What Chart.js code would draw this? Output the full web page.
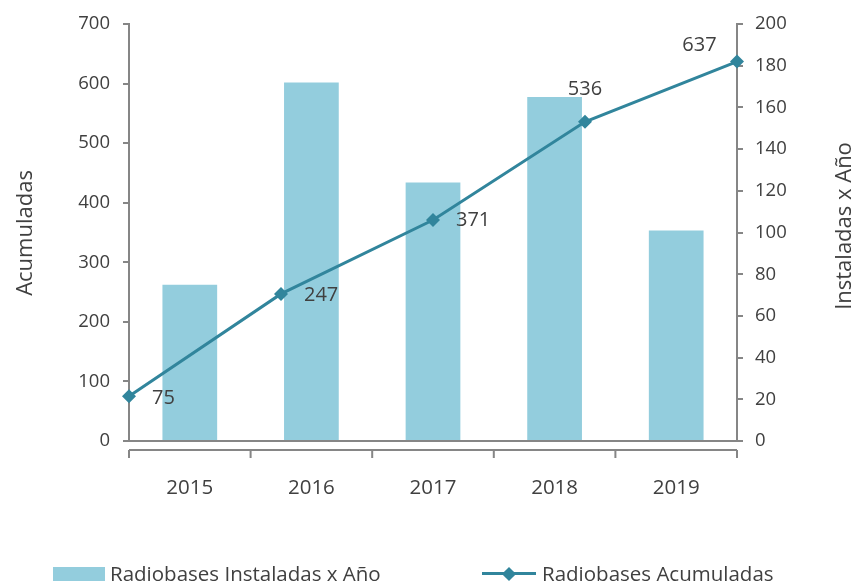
<!DOCTYPE html>
<html>
<head>
<meta charset="utf-8">
<script src="https://cdn.jsdelivr.net/npm/chart.js@4.4.1/dist/chart.umd.min.js"></script>
<style>
  html, body { margin: 0; padding: 0; background: #ffffff; }
  #wrap { position: relative; width: 853px; height: 583px; overflow: hidden; font-family: 'Open Sans', sans-serif; color: #404040; }
  #c { position: absolute; left: 0; top: 0; }
  .title { position: absolute; width: 240px; height: 30px; line-height: 30px; font-size: 22px; text-align: center; transform: rotate(-90deg); transform-origin: 50% 50%; white-space: nowrap; }
  .leg { position: absolute; font-size: 20.5px; line-height: 24px; white-space: nowrap; }
  .sw-bar { position: absolute; width: 52px; height: 14px; background: #93CDDD; }
  .sw-line { position: absolute; width: 54px; height: 3px; background: #31859C; }
  .sw-dia { position: absolute; width: 10px; height: 10px; background: #31859C; transform: rotate(45deg); }
</style>
</head>
<body>
<div id="wrap">
  <canvas id="c" width="853" height="583"></canvas>
  <div class="title" style="left:-97.5px; top:217.5px;">Acumuladas</div>
  <div class="title" style="left:721.5px; top:211px;">Instaladas x Año</div>
  <div class="sw-bar" style="left:53px; top:567px;"></div>
  <div class="leg" style="left:110px; top:561px;">Radiobases Instaladas x Año</div>
  <div class="sw-line" style="left:482px; top:572px;"></div>
  <div class="sw-dia" style="left:503.5px; top:568.5px;"></div>
  <div class="leg" style="left:542px; top:561px;">Radiobases Acumuladas</div>
</div>
<script>
// ---- data ----
const categories = ['2015', '2016', '2017', '2018', '2019'];
const installedPerYear = [75, 172, 124, 165, 101];
const cumulative = [75, 247, 371, 536, 637];
const leftTicks = [0, 100, 200, 300, 400, 500, 600, 700];
const rightTicks = [0, 20, 40, 60, 80, 100, 120, 140, 160, 180, 200];

const TEXT = '#404040';
const AXIS = '#868686';
const FONT = "'Open Sans', sans-serif";

// secondary x axis line drawn slightly below the zero line, with category tick marks
const lowerAxisPlugin = {
  id: 'lowerAxis',
  afterDraw(chart) {
    const { ctx, chartArea } = chart;
    const xs = chart.scales.x;
    const n = xs.ticks.length;
    const y = chartArea.bottom + 9;
    ctx.save();
    ctx.strokeStyle = AXIS;
    ctx.lineWidth = 2;
    ctx.beginPath();
    ctx.moveTo(chartArea.left, y);
    ctx.lineTo(chartArea.right, y);
    const w = (chartArea.right - chartArea.left) / n;
    for (let i = 0; i <= n; i++) {
      const x = i < n ? xs.getPixelForTick(i) - w / 2 : xs.getPixelForTick(n - 1) + w / 2;
      ctx.moveTo(x, y);
      ctx.lineTo(x, y + 8);
    }
    ctx.stroke();
    ctx.restore();
  }
};

// value labels next to the line markers
const valueLabelPlugin = {
  id: 'valueLabels',
  afterDatasetsDraw(chart, args, opts) {
    const { ctx } = chart;
    const ds = chart.data.datasets[opts.datasetIndex];
    const meta = chart.getDatasetMeta(opts.datasetIndex);
    ctx.save();
    ctx.font = '20px ' + FONT;
    ctx.fillStyle = TEXT;
    ctx.textBaseline = 'middle';
    meta.data.forEach((pt, i) => {
      const p = opts.place[i];
      ctx.textAlign = p[0];
      ctx.fillText(String(ds.data[i]), pt.x + p[1], pt.y + p[2]);
    });
    ctx.restore();
  }
};

new Chart(document.getElementById('c'), {
  data: {
    labels: categories,
    datasets: [
      {
        type: 'line',
        label: 'Radiobases Acumuladas',
        data: cumulative,
        xAxisID: 'x2',
        yAxisID: 'y',
        borderColor: '#31859C',
        backgroundColor: '#31859C',
        borderWidth: 3,
        pointStyle: 'rectRot',
        pointRadius: 7,
        pointHoverRadius: 7,
        pointBackgroundColor: '#31859C',
        pointBorderColor: '#31859C',
        pointBorderWidth: 0,
        tension: 0,
        clip: false,
        order: 1
      },
      {
        type: 'bar',
        label: 'Radiobases Instaladas x Año',
        data: installedPerYear,
        xAxisID: 'x',
        yAxisID: 'y1',
        backgroundColor: '#93CDDD',
        grouped: false,
        barPercentage: 0.45,
        categoryPercentage: 1,
        order: 2
      }
    ]
  },
  options: {
    responsive: false,
    animation: false,
    devicePixelRatio: 1,
    layout: { padding: { top: 23, left: 0, right: 0, bottom: 0 } },
    plugins: {
      legend: { display: false },
      tooltip: { enabled: false },
      valueLabels: {
        datasetIndex: 0,
        place: [['left', 23, 1.5], ['left', 23, 1], ['left', 23, 0.5], ['center', 0, -32.5], ['center', -37.5, -16]]
      }
    },
    scales: {
      x: {
        type: 'category',
        position: 'bottom',
        offset: true,
        grid: { display: false },
        border: { display: true, color: AXIS, width: 2 },
        ticks: { color: TEXT, font: { family: FONT, size: 20.5 }, padding: 27, maxRotation: 0 },
        afterFit(s) { s.height = 142; }
      },
      x2: {
        type: 'category',
        position: 'bottom',
        display: false,
        offset: false
      },
      y: {
        position: 'left',
        min: 0,
        max: 700,
        afterBuildTicks(s) { s.ticks = leftTicks.map(v => ({ value: v })); },
        grid: { drawOnChartArea: false, drawTicks: true, tickLength: 6, color: AXIS, lineWidth: 2 },
        border: { display: true, color: AXIS, width: 2 },
        ticks: { color: TEXT, font: { family: FONT, size: 18.5 }, padding: 13 },
        afterFit(s) { s.width = 129; }
      },
      y1: {
        position: 'right',
        min: 0,
        max: 200,
        afterBuildTicks(s) { s.ticks = rightTicks.map(v => ({ value: v })); },
        grid: { drawOnChartArea: false, drawTicks: true, tickLength: 6, color: AXIS, lineWidth: 2 },
        border: { display: true, color: AXIS, width: 2 },
        ticks: { color: TEXT, font: { family: FONT, size: 18.5 }, padding: 12 },
        afterFit(s) { s.width = 116; }
      }
    }
  },
  plugins: [lowerAxisPlugin, valueLabelPlugin]
});
</script>
</body>
</html>
